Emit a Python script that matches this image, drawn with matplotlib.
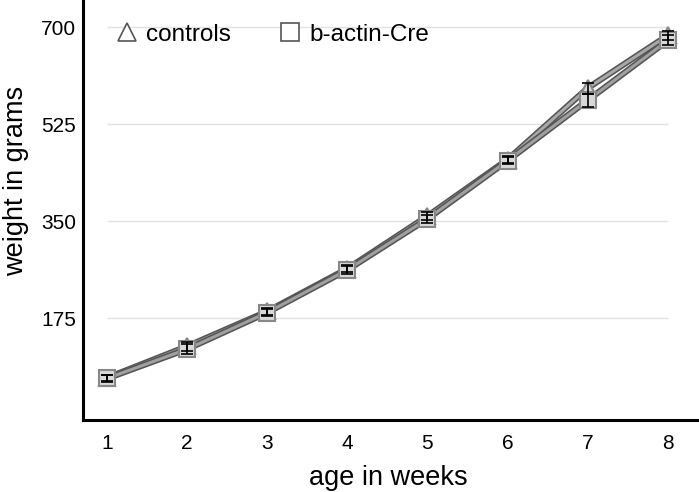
import numpy as np
import matplotlib.pyplot as plt
import matplotlib.patheffects as pe

plt.rcParams['font.family'] = ['Liberation Sans', 'DejaVu Sans']

# Données
weeks = [1, 2, 3, 4, 5, 6, 7, 8]
controls = [67, 124, 187, 264, 359, 461, 590, 685]
controls_err = [6, 8, 6, 6, 7, 6, 10, 8]
bactin = [66, 119, 185, 262, 354, 459, 568, 676]
bactin_err = [6, 9, 6, 7, 7, 6, 12, 9]
yticks = [175, 350, 525, 700]

fig = plt.figure(figsize=(6.99, 4.92), dpi=100)
ax = fig.add_axes([0.1187, 0.1463, 0.8813, 0.8537])

for t in yticks:
    ax.hlines(t, 1, 8, color='#e2e2e2', lw=1, zorder=0)

stroke = [pe.Stroke(linewidth=4.5, foreground='#555555'), pe.Normal()]
ax.plot(weeks, controls, color='#a8a8a8', lw=2.2, zorder=2, path_effects=stroke)
ax.plot(weeks, bactin, color='#a0a0a0', lw=2.2, zorder=2, path_effects=stroke)

ax.plot(weeks, controls, ls='none', marker='^', ms=11, mfc='#d8d8d8', mec='#888888', mew=1.5, zorder=3)
ax.plot(weeks, bactin, ls='none', marker='s', ms=11, mfc='#d8d8d8', mec='#888888', mew=1.5, zorder=4)
ax.errorbar(weeks, controls, yerr=controls_err, fmt='none', ecolor='black', elinewidth=1.2, capsize=4, capthick=1.2, zorder=5)
ax.errorbar(weeks, bactin, yerr=bactin_err, fmt='none', ecolor='black', elinewidth=1.2, capsize=4, capthick=1.2, zorder=5)

ax.set_xlim(0.70, 8.39)
ax.set_ylim(-9, 749)
ax.set_xticks(weeks)
ax.set_yticks(yticks)
ax.tick_params(axis='x', length=0, labelsize=15, pad=10)
ax.tick_params(axis='y', length=0, labelsize=15, pad=5)
for s in ['top', 'right']:
    ax.spines[s].set_visible(False)
for s in ['left', 'bottom']:
    ax.spines[s].set_linewidth(2.2)
ax.set_xlabel('age in weeks', fontsize=19.5)
ax.xaxis.set_label_coords(0.495, -0.108)
ax.set_ylabel('weight in grams', fontsize=19.5)
ax.yaxis.set_label_coords(-0.088, 0.569)

h1, = ax.plot([], [], ls='none', marker='^', ms=13, mfc='white', mec='#555555', mew=1.2)
h2, = ax.plot([], [], ls='none', marker='s', ms=13, mfc='white', mec='#555555', mew=1.2)
ax.legend([h1, h2], ['controls', 'b-actin-Cre'], loc='upper left', ncol=2, frameon=False,
          fontsize=17.5, handlelength=1.0, handletextpad=0.3, columnspacing=1.95,
          borderaxespad=0, borderpad=0, bbox_to_anchor=(0.051, 0.944))

fig.savefig('out.png', dpi=100)
